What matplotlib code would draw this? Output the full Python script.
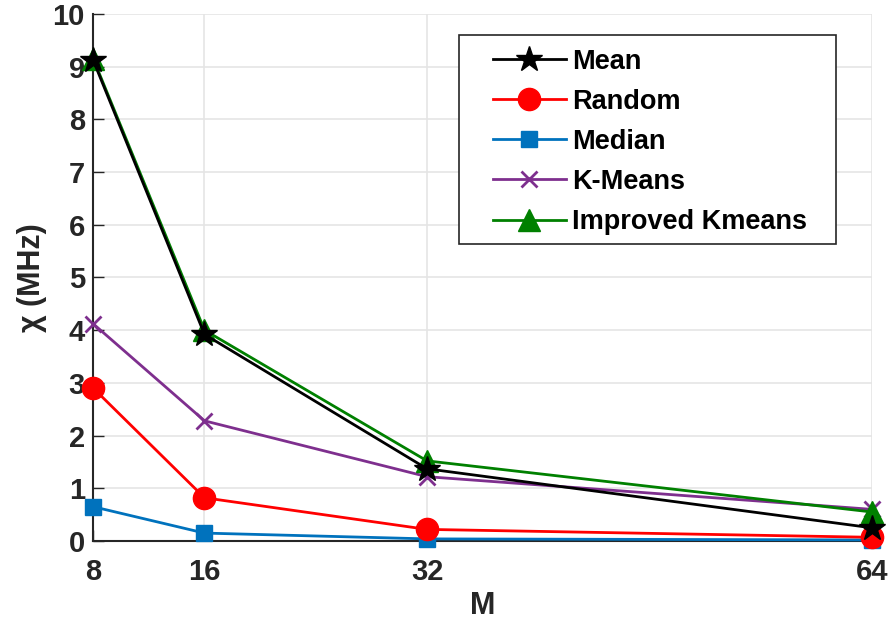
import numpy as np
import matplotlib
matplotlib.use("Agg")
import matplotlib.pyplot as plt
from matplotlib.patches import Rectangle

plt.rcParams['font.family'] = ['Liberation Sans', 'DejaVu Sans']
plt.rcParams['font.weight'] = 'bold'

M = [8, 16, 32, 64]
mean = [9.12, 3.92, 1.37, 0.25]
random_ = [2.9, 0.82, 0.22, 0.07]
median = [0.65, 0.15, 0.04, 0.02]
kmeans = [4.12, 2.28, 1.22, 0.6]
improved = [9.15, 4.0, 1.52, 0.55]

fig = plt.figure(figsize=(8.88, 6.32), dpi=100)
ax = fig.add_axes([0.105, 0.144, 0.877, 0.834])

common = dict(lw=2, clip_on=False)
ax.plot(M, mean, color='black', marker='*', markersize=19, label='Mean', zorder=6, **common)
ax.plot(M, random_, color='#ff0000', marker='o', markersize=16, label='Random', zorder=4, **common)
ax.plot(M, median, color='#0072bd', marker='s', markersize=12, label='Median', zorder=3, **common)
ax.plot(M, kmeans, color='#7e2f8e', marker='x', markersize=12, mew=2, label='K-Means', zorder=4, **common)
ax.plot(M, improved, color='#008000', marker='^', markersize=16, label='Improved Kmeans', zorder=5, **common)

ax.set_xlim(8, 64)
ax.set_ylim(0, 10)
ax.set_xticks(M)
ax.set_yticks(range(0, 11))
ax.tick_params(direction='in', length=8, width=1, labelsize=21, colors='#262626')
ax.tick_params(axis='x', pad=12)
ax.tick_params(axis='y', pad=6)
for lab in ax.get_xticklabels() + ax.get_yticklabels():
    lab.set_fontweight('bold')
ax.grid(True, color='#e5e5e5', lw=1.2)
ax.set_axisbelow(True)
ax.spines['top'].set_visible(False)
ax.spines['right'].set_visible(False)
ax.spines['left'].set_color('#262626')
ax.spines['bottom'].set_color('#262626')
ax.spines['left'].set_linewidth(1.5)
ax.spines['bottom'].set_linewidth(1.5)

ax.set_xlabel('M', fontsize=22, fontweight='bold', color='#262626', labelpad=4)
ax.set_ylabel('χ (MHz)', fontsize=22, fontweight='bold', color='#262626', labelpad=4)

# legend box drawn separately (wide side padding like the original)
ax.add_patch(Rectangle((0.470, 0.5636), 0.484, 0.3964, transform=ax.transAxes,
                       facecolor='white', edgecolor='#262626', lw=1.2, zorder=10, clip_on=False))
leg = ax.legend(loc='upper left', bbox_to_anchor=(0.513, 0.934), fontsize=19.5,
                frameon=False, handlelength=2.7, labelspacing=0.52, borderpad=0,
                handletextpad=0.22, borderaxespad=0)
leg.set_zorder(11)
for t in leg.get_texts():
    t.set_fontweight('bold')

fig.savefig('out.png', dpi=100)
